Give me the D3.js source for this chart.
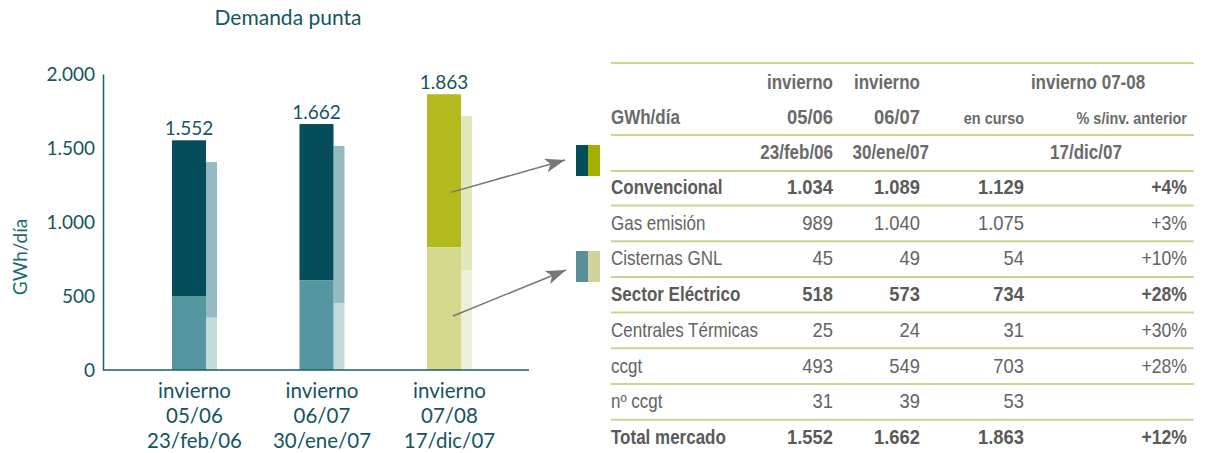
<!DOCTYPE html>
<html>
<head>
<meta charset="utf-8">
<script src="https://cdn.jsdelivr.net/npm/d3@7"></script>
<style>
  body { margin:0; background:#fff; }
  svg { display:block; }
  .chart text { font-family: Lato, "Open Sans", sans-serif; fill:#14555e; }
  .tbl text { font-family: "Liberation Sans", Arial, sans-serif; fill:#636363; }
</style>
</head>
<body>
<div id="chart"></div>
<script>
// categories
var seasons = ["05/06", "06/07", "07/08"]
var peakDates = ["23/feb/06", "30/ene/07", "17/dic/07"]
// bar values (GWh/dia)
var totalDemand = [1552, 1662, 1863]
var electricPart = [500, 605, 830]
var prevTotal = [1405, 1514, 1716]
var prevElectric = [353, 453, 676]
var yTicks = [0, 500, 1000, 1500, 2000]

// table
var rowLabels = ["Convencional", "Gas emisión", "Cisternas GNL", "Sector Eléctrico",
                 "Centrales Térmicas", "ccgt", "nº ccgt", "Total mercado"]
var boldRows = [0, 3, 7]
var col0506 = [1034, 989, 45, 518, 25, 493, 31, 1552]
var col0607 = [1089, 1040, 49, 573, 24, 549, 39, 1662]
var col0708 = [1129, 1075, 54, 734, 31, 703, 53, 1863]
var pctChange = ["+4%", "+3%", "+10%", "+28%", "+30%", "+28%", "", "+12%"]

var es = d3.formatLocale({decimal: ",", thousands: ".", grouping: [3], currency: ["", " €"]})
var fmt = es.format(",.0f")

var width = 1205, height = 453

var svg = d3.select("#chart").append("svg")
    .attr("width", width)
    .attr("height", height)

var chart = svg.append("g").attr("class", "chart")

var y = d3.scaleLinear().domain([0, 2000]).range([370, 74])
var x = d3.scaleBand().domain(seasons).range([130.75, 513.25])

var mainW = 34, prevW = 11
var colsTeal = { top: "#034e5a", bot: "#5596a0", ptop: "#96bac1", pbot: "#c4dbde" }
var colsOlive = { top: "#b2ba1d", bot: "#d4d88c", ptop: "#e2e6ba", pbot: "#eef0d9" }
function pal(i){ return i == 2 ? colsOlive : colsTeal }
function mainX(d){ return x(d) + x.bandwidth()/2 - (mainW + prevW)/2 }

// title
chart.append("text")
    .attr("x", 288).attr("y", 25)
    .attr("text-anchor", "middle")
    .style("font-size", "21px")
    .text("Demanda punta")

chart.append("text")
    .attr("transform", "translate(27,257) rotate(-90)")
    .attr("text-anchor", "middle")
    .style("font-size", "19px")
    .style("fill", "#1d6b73")
    .text("GWh/día")

// y axis
var yAxis = d3.axisLeft(y).tickValues(yTicks).tickSize(0).tickPadding(8)
    .tickFormat(function(d){ return fmt(d) })
var yg = chart.append("g").attr("transform", "translate(103,0)").call(yAxis)
yg.select(".domain").attr("stroke", "#1b5e66").attr("stroke-width", 1.5)
yg.selectAll("text").style("font-size", "19px").style("font-family", "Lato, sans-serif").attr("fill", "#14555e")

// bars
var groups = chart.selectAll(".grp").data(seasons).enter().append("g").attr("class", "grp")

groups.append("rect")
    .attr("x", function(d){ return mainX(d) + mainW })
    .attr("width", prevW)
    .attr("y", function(d, i){ return y(prevTotal[i]) })
    .attr("height", function(d, i){ return y(prevElectric[i]) - y(prevTotal[i]) })
    .attr("fill", function(d, i){ return pal(i).ptop })
groups.append("rect")
    .attr("x", function(d){ return mainX(d) + mainW })
    .attr("width", prevW)
    .attr("y", function(d, i){ return y(prevElectric[i]) })
    .attr("height", function(d, i){ return y(0) - y(prevElectric[i]) })
    .attr("fill", function(d, i){ return pal(i).pbot })
groups.append("rect")
    .attr("x", function(d){ return mainX(d) })
    .attr("width", mainW)
    .attr("y", function(d, i){ return y(totalDemand[i]) })
    .attr("height", function(d, i){ return y(electricPart[i]) - y(totalDemand[i]) })
    .attr("fill", function(d, i){ return pal(i).top })
groups.append("rect")
    .attr("x", function(d){ return mainX(d) })
    .attr("width", mainW)
    .attr("y", function(d, i){ return y(electricPart[i]) })
    .attr("height", function(d, i){ return y(0) - y(electricPart[i]) })
    .attr("fill", function(d, i){ return pal(i).bot })

groups.append("text")
    .attr("x", function(d){ return mainX(d) + mainW/2 })
    .attr("y", function(d, i){ return y(totalDemand[i]) - 5 })
    .attr("text-anchor", "middle")
    .style("font-size", "19px")
    .text(function(d, i){ return fmt(totalDemand[i]) })

// x axis line
chart.append("line")
    .attr("x1", 103).attr("x2", 529)
    .attr("y1", y(0)).attr("y2", y(0))
    .attr("stroke", "#1b5e66").attr("stroke-width", 1.5)

var xl = groups.append("text")
    .attr("text-anchor", "middle")
    .style("font-size", "20.5px")
xl.append("tspan").attr("x", function(d){ return x(d) + x.bandwidth()/2 }).attr("y", 398).text("invierno")
xl.append("tspan").attr("x", function(d){ return x(d) + x.bandwidth()/2 }).attr("y", 423).text(function(d){ return d })
xl.append("tspan").attr("x", function(d){ return x(d) + x.bandwidth()/2 }).attr("y", 448).text(function(d, i){ return peakDates[i] })

// arrows to legend squares
svg.append("defs").append("marker")
    .attr("id", "arr")
    .attr("markerUnits", "userSpaceOnUse")
    .attr("markerWidth", 24).attr("markerHeight", 16)
    .attr("viewBox", "-22 -8 24 16")
    .attr("refX", 0).attr("refY", 0)
    .attr("orient", "auto")
  .append("path")
    .attr("d", "M0,0 L-20,-7 L-15,0 L-20,7 Z")
    .attr("fill", "#777")

var lastX = mainX(seasons[2]) + mainW/2 + 7
chart.append("line")
    .attr("x1", lastX).attr("y1", y(1200))
    .attr("x2", 565).attr("y2", 160)
    .attr("stroke", "#777").attr("stroke-width", 1.5)
    .attr("marker-end", "url(#arr)")
chart.append("line")
    .attr("x1", lastX + 2).attr("y1", y(365))
    .attr("x2", 566).attr("y2", 270)
    .attr("stroke", "#777").attr("stroke-width", 1.5)
    .attr("marker-end", "url(#arr)")

chart.append("rect").attr("x", 576).attr("y", 145).attr("width", 12).attr("height", 31).attr("fill", "#034e5a")
chart.append("rect").attr("x", 588).attr("y", 145).attr("width", 12).attr("height", 31).attr("fill", "#a4af00")
chart.append("rect").attr("x", 576).attr("y", 251).attr("width", 12).attr("height", 31).attr("fill", "#5a8e99")
chart.append("rect").attr("x", 588).attr("y", 251).attr("width", 12).attr("height", 31).attr("fill", "#d0d49a")

// table (narrow text by squeezing a normal sans)
var tbl = svg.append("g").attr("class", "tbl")
var tx0 = 611, tx1 = 1194
var colX = [833, 920, 1024, 1187]
var rowY0 = 187, rowH = 35.7
var lineY = [63, 135, 171]
d3.range(7).forEach(function(i){ lineY.push(rowY0 + rowH*i + 18.5) })

tbl.selectAll(".hl").data(lineY).enter().append("line")
    .attr("x1", tx0).attr("x2", tx1)
    .attr("y1", function(d){ return d }).attr("y2", function(d){ return d })
    .attr("stroke", "#ccd48f").attr("stroke-width", 2)

function cell(txt, xx, yy, anchor, size, weight, color, sq){
    tbl.append("text")
        .attr("transform", "translate(" + xx + "," + yy + ") scale(" + (sq || 0.85) + ",1)")
        .attr("text-anchor", anchor)
        .attr("dy", "0.35em")
        .style("font-size", size + "px")
        .style("font-weight", weight)
        .style("fill", color || null)
        .text(txt)
}
var hc = "#6a6a6a"
cell("invierno", colX[0], 82, "end", 20, "bold", hc)
cell("invierno", colX[1], 82, "end", 20, "bold", hc)
cell("invierno 07-08", 1088, 82, "middle", 20, "bold", hc)
cell("GWh/día", tx0, 117, "start", 20, "bold", hc)
cell("05/06", colX[0], 117, "end", 20, "bold", hc, 0.92)
cell("06/07", colX[1], 117, "end", 20, "bold", hc, 0.92)
cell("en curso", colX[2], 118, "end", 17, "bold", hc)
cell("% s/inv. anterior", colX[3], 118, "end", 17, "bold", hc)
cell("23/feb/06", colX[0], 152, "end", 20, "bold", hc)
cell("30/ene/07", 929, 152, "end", 20, "bold", hc)
cell("17/dic/07", 1086, 152, "middle", 20, "bold", hc)

rowLabels.forEach(function(lab, i){
    var yy = rowY0 + rowH*i
    var w = boldRows.includes(i) ? "bold" : "normal"
    var c = boldRows.includes(i) ? "#5a5a5a" : null
    cell(lab, tx0, yy, "start", 20, w, c)
    cell(fmt(col0506[i]), colX[0], yy, "end", 20, w, c, 0.92)
    cell(fmt(col0607[i]), colX[1], yy, "end", 20, w, c, 0.92)
    cell(fmt(col0708[i]), colX[2], yy, "end", 20, w, c, 0.92)
    cell(pctChange[i], colX[3], yy, "end", 20, w, c, 0.88)
})
</script>
</body>
</html>
